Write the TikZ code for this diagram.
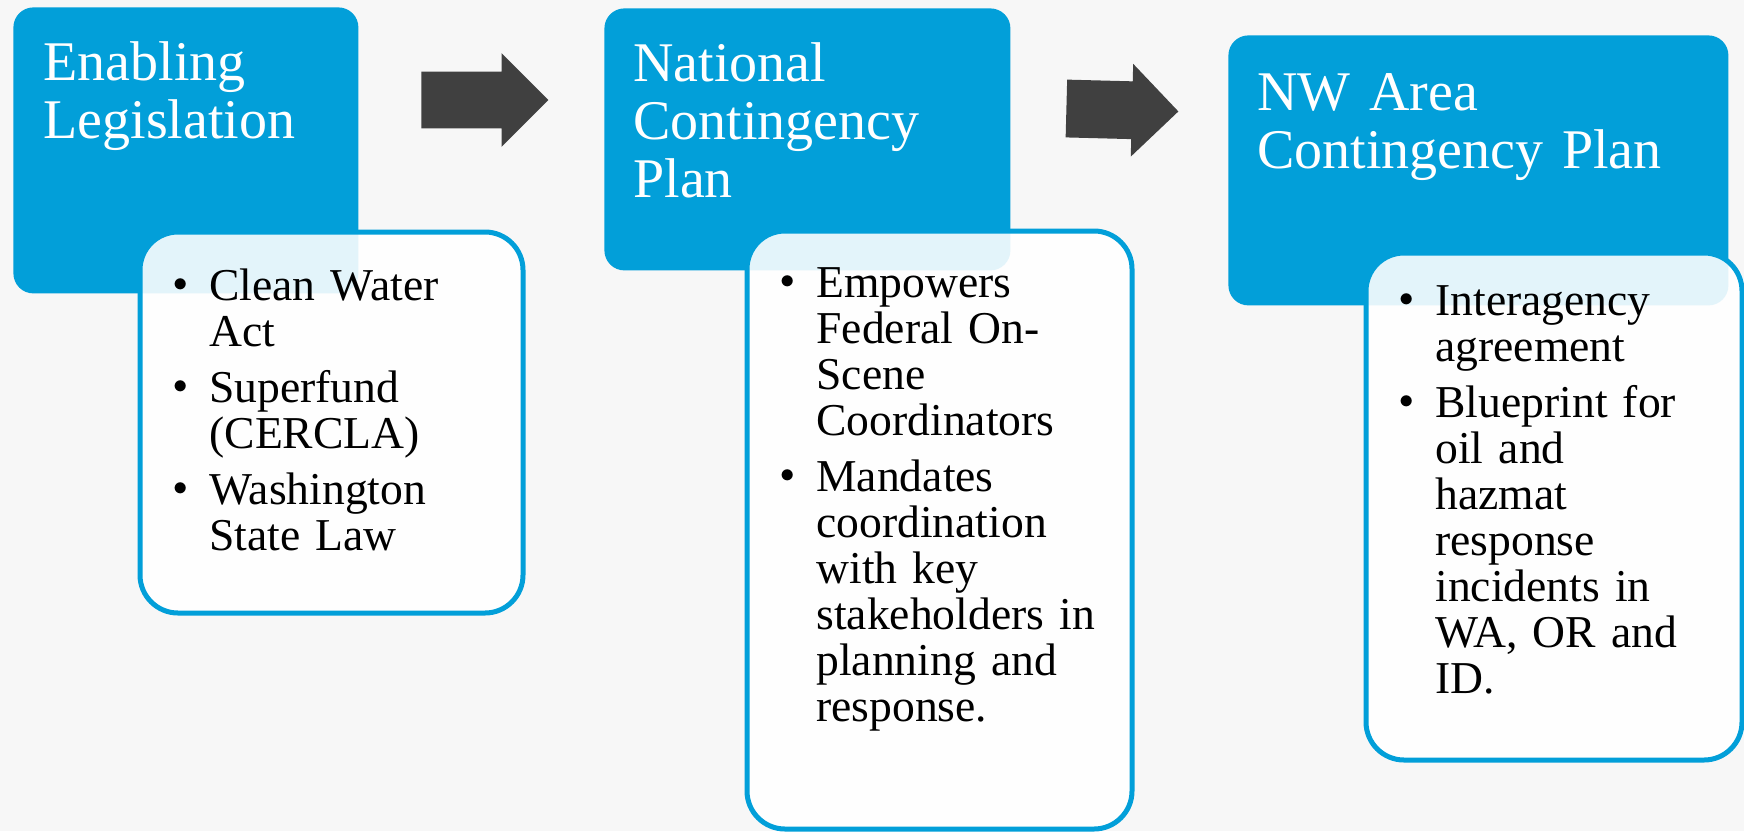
\documentclass[tikz,border=0pt]{standalone}
\usepackage{fontspec}
\setmainfont{Liberation Serif}
\usetikzlibrary{shapes.arrows}

\definecolor{planblau}{RGB}{2,159,217}
\definecolor{pfeilgrau}{RGB}{64,64,64}
\definecolor{papier}{RGB}{247,247,247}

% Aufzaehlungspunkt
\newcommand{\punkt}{\leftskip=18pt\noindent\llap{\makebox[18pt][l]{\raisebox{4.1pt}{\fontsize{13.5}{13.5}\selectfont$\bullet$}}}}
\newcommand{\naechster}{\par\vspace{5pt}\punkt}

\begin{document}
\begin{tikzpicture}[
    x=0.5pt, y=-0.5pt,
    kopf/.style   = {fill=planblau, rounded corners=10pt, anchor=north west, inner sep=0pt},
    liste/.style  = {draw=planblau, line width=2.5pt, fill=white, fill opacity=.89, rounded corners=19pt, anchor=north west, inner sep=0pt},
    titel/.style  = {anchor=base west, inner sep=0pt, text=white, text width=260pt, align=left, font=\fontsize{28}{29}\selectfont},
    punkte/.style = {anchor=base west, inner sep=0pt, text width=200pt, align=left, font=\fontsize{22.8}{23}\selectfont},
    pfeil/.style  = {single arrow, fill=pfeilgrau, inner xsep=0pt, single arrow tip angle=90, anchor=tail},
  ]

	% Hintergrund
	\fill[papier] (0,0) rectangle (1744,831);
	\useasboundingbox (0,0) rectangle (1744,831);

	% Kopfkaesten
	\node[kopf, minimum width=172.5pt, minimum height=143pt] (K1) at (13,7) {};
	\node[kopf, minimum width=203pt, minimum height=131pt] (K2) at (604,8) {};
	\node[kopf, minimum width=250pt, minimum height=135pt] (K3) at (1228,35) {};

	% Listenkaesten
	\node[liste, minimum width=191.5pt, minimum height=190.5pt] (L1) at (137.5,229.5) {};
	\node[liste, minimum width=192.5pt, minimum height=299pt] (L2) at (744.5,228.5) {};
	\node[liste, minimum width=188pt, minimum height=253.5pt] (L3) at (1363.5,250.5) {};

	% Titel
	\node[titel] (T1) at (43,80) {Enabling\\Legislation};
	\node[titel] (T2) at (633,81) {National\\Contingency\\Plan};
	\node[titel] (T3) at (1257,110) {NW Area\\Contingency Plan};

	% Stichpunkte
	\node[punkte] (P1) at (173,300) {\punkt Clean Water\newline Act\naechster Superfund\newline (CERCLA)\naechster Washington\newline State Law\par};
	\node[punkte] (P2) at (780,297) {\punkt Empowers\newline Federal On-\newline Scene\newline Coordinators\naechster Mandates\newline coordination\newline with key\newline stakeholders in\newline planning and\newline response.\par};
	\node[punkte] (P3) at (1399,315) {\punkt Interagency\newline agreement\naechster Blueprint for\newline oil and\newline hazmat\newline response\newline incidents in\newline WA, OR and\newline ID.\par};

	% Pfeile
	\node[pfeil, minimum height=63.5pt, inner ysep=14pt, single arrow head extend=9.25pt] (A1) at (421,100) {};
	\node[pfeil, minimum height=56pt, inner ysep=14.25pt, single arrow head extend=8.75pt, rotate=-1.5] (A2) at (1066,108.5) {};

\end{tikzpicture}
\end{document}
